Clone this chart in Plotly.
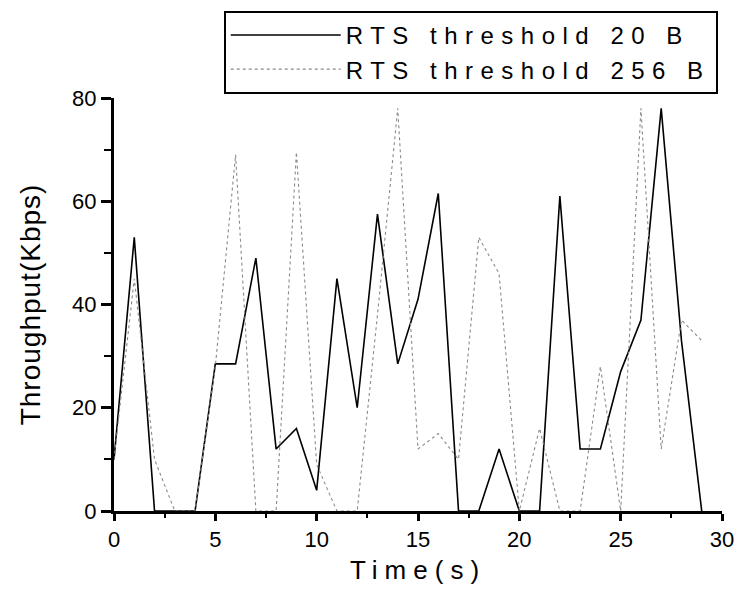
import plotly.graph_objects as go

time_s = list(range(30))
rts_20 = [10, 53, 0, 0, 0, 28.5, 28.5, 49, 12, 16, 4, 45, 20, 57.5, 28.5, 41, 61.5, 0, 0, 12,
          0, 0, 61, 12, 12, 27, 37, 78, 33, 0]
rts_256 = [10, 45, 10, 0, 0, 28, 69, 0, 0, 69.5, 9, 0, 0, 38, 78, 12, 15, 10, 53, 46,
           0, 16, 0, 0, 28, 0, 78, 12, 37, 33]
x_ticks = [0, 5, 10, 15, 20, 25, 30]
y_ticks = [0, 20, 40, 60, 80]

FONT = "Liberation Sans, Arial, sans-serif"

def spaced(t, sp):
    return f'<span style="letter-spacing:{sp}px">{t}</span>'

fig = go.Figure()
fig.add_trace(go.Scatter(x=time_s, y=rts_20, mode="lines",
                         name=spaced("RTS threshold 20 B", 7.5),
                         line=dict(color="black", width=1.6)))
fig.add_trace(go.Scatter(x=time_s, y=rts_256, mode="lines",
                         name=spaced("RTS threshold 256 B", 7.5),
                         line=dict(color="#8a8a8a", width=1.1, dash="dot")))

fig.update_layout(
    width=740, height=595,
    margin=dict(l=114, r=18, t=98, b=84, autoexpand=False),
    paper_bgcolor="white", plot_bgcolor="white",
    font=dict(family=FONT, color="black"),
    showlegend=True,
    legend=dict(x=0.993, xanchor="right", y=1.211, yanchor="top",
                bordercolor="black", borderwidth=2, bgcolor="white",
                font=dict(size=24, family=FONT), tracegroupgap=0,
                itemwidth=110),
    xaxis=dict(range=[0, 30], tickvals=x_ticks,
               showgrid=False, zeroline=False, showline=True,
               linecolor="black", linewidth=3, ticks="outside", ticklen=7,
               tickwidth=2.5, tickcolor="black",
               minor=dict(dtick=2.5, ticks="outside", ticklen=4, tickwidth=2, tickcolor="black"),
               tickfont=dict(size=22, family=FONT),
               title=dict(text=spaced("Time(s)", 7), font=dict(size=26, family=FONT), standoff=10)),
    yaxis=dict(range=[0, 80], tickvals=y_ticks,
               showgrid=False, zeroline=False, showline=True,
               linecolor="black", linewidth=3, ticks="outside", ticklen=10,
               tickwidth=2.5, tickcolor="black",
               minor=dict(dtick=10, ticks="outside", ticklen=7, tickwidth=2, tickcolor="black"),
               tickfont=dict(size=22, family=FONT),
               title=dict(text=spaced("Throughput(Kbps)", 1), font=dict(size=28, family=FONT), standoff=24)),
)

fig.write_html("out.html", config={"displayModeBar": False},
               post_script="document.body.style.margin='0';")
